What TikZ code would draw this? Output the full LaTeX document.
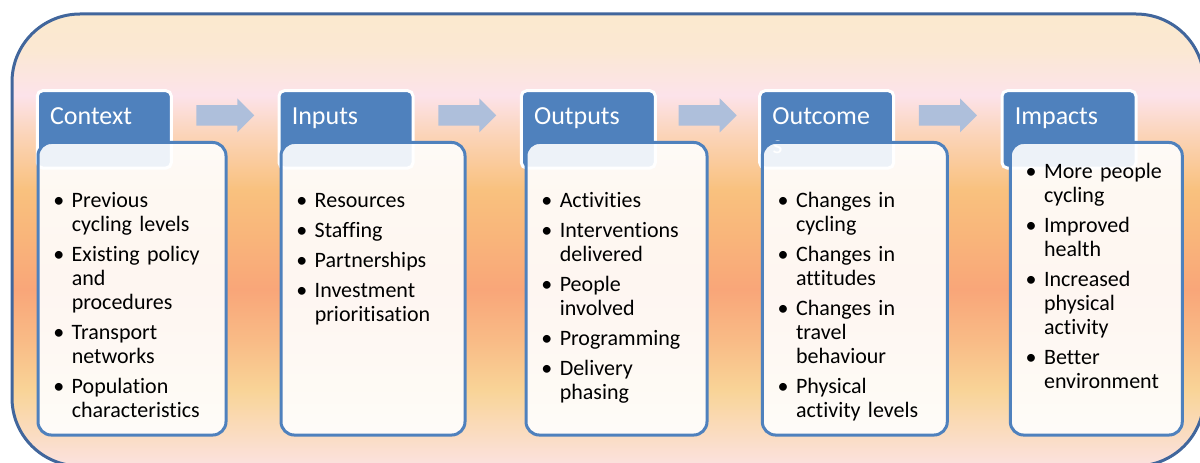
\documentclass[tikz,border=0pt]{standalone}
\usepackage{fontspec}
\setmainfont{Carlito}[Ligatures={NoCommon}]
\usetikzlibrary{shapes.arrows,calc}

\definecolor{tabblue}{HTML}{4F81BD}
\definecolor{frameblue}{HTML}{41669C}
\definecolor{arrowblue}{HTML}{AEBFDB}
\definecolor{bga}{HTML}{FBE2E0}
\definecolor{bgb}{HTML}{F9D497}
\definecolor{bgc}{HTML}{F9BB86}
\definecolor{bgd}{HTML}{F9A679}
\definecolor{bge}{HTML}{F9B47A}
\definecolor{bgf}{HTML}{F9C17E}
\definecolor{bgg}{HTML}{FBD4B8}
\definecolor{bgh}{HTML}{FCE3EA}
\definecolor{bgi}{HTML}{FBE8D3}
\definecolor{bgj}{HTML}{FBE9CE}
\pgfdeclareverticalshading{bgshade}{100bp}{color(0bp)=(bga); color(25bp)=(bga); color(33.4bp)=(bgb); color(38.9bp)=(bgc); color(44.5bp)=(bgd); color(50bp)=(bge); color(55.5bp)=(bgf); color(61.6bp)=(bgg); color(66bp)=(bgh); color(71bp)=(bgi); color(75bp)=(bgj); color(100bp)=(bgj)}

\newcommand{\bitem}{\par\hangindent=19.5pt\hangafter=1\noindent\rule{0pt}{13pt}\makebox[19.5pt][c]{\textbullet}\ignorespaces}

\begin{document}
\begin{tikzpicture}[x=0.75pt,y=0.75pt,yscale=-1,xscale=1,
  tabbox/.style={draw=white, line width=2.25pt, fill=tabblue, rounded corners=4pt, minimum width=100.5pt, minimum height=58pt, anchor=north west, inner sep=0pt},
  bodybox/.style={draw=tabblue, line width=2.25pt, fill=white, fill opacity=0.9, rounded corners=10pt, minimum height=219.4pt, anchor=north west, inner sep=0pt},
  tabtitle/.style={text=white, font=\fontsize{19.5}{21.75}\selectfont, anchor=north west, inner sep=0pt, align=left},
  itemlist/.style={font=\fontsize{16.5}{18}\selectfont\setlength{\parskip}{4.5pt}, anchor=north west, inner sep=0pt, text width=170pt, align=left},
  flowarrow/.style={single arrow, fill=arrowblue, draw=none, inner sep=7.5pt, single arrow head extend=5pt, minimum height=43.5pt, single arrow tip angle=90}]
\useasboundingbox (0,0) rectangle (1200,463);
\clip (0,0) rectangle (1200,463);

%Background frame
\shade [shading=bgshade, rounded corners=51pt] (12,14) rectangle (1204,466);
\draw [frameblue, line width=2.25pt, rounded corners=51pt] (12,14) rectangle (1204,466);

%Header tabs
\node [tabbox] (ctxtab) at (35.8,89.2) {};
\node [tabbox] (inptab) at (277.5,89.2) {};
\node [tabbox] (outptab) at (519.8,89.2) {};
\node [tabbox] (outctab) at (758.2,89.2) {};
\node [tabbox] (imptab) at (1000.5,89.2) {};

% Text Node
\node [tabtitle] (ctxtitle) at (49.8,103.7) {\strut Context};
\node [tabtitle] (inptitle) at (291.5,103.7) {\strut Inputs};
\node [tabtitle] (outptitle) at (533.8,103.7) {\strut Outputs};
\node [tabtitle] (outctitle) at (772.2,103.7) {\strut Outcome\\s};
\node [tabtitle] (imptitle) at (1014.5,103.7) {\strut Impacts};

%Body boxes
\node [bodybox, minimum width=141pt] (ctxbody) at (36.5,141) {};
\node [bodybox, minimum width=138pt] (inpbody) at (279.5,141) {};
\node [bodybox, minimum width=135.75pt] (outpbody) at (524.5,141) {};
\node [bodybox, minimum width=138.75pt] (outcbody) at (760.8,141) {};
\node [bodybox, minimum width=129pt] (impbody) at (1008.8,141) {};

% Text Node
\node [itemlist] (ctxlist) at (45.5,177) {\bitem Previous\newline cycling levels \bitem Existing policy\newline and\newline procedures \bitem Transport\newline networks \bitem Population\newline characteristics\par};
\node [itemlist] (inplist) at (288.5,177) {\bitem Resources \bitem Staffing \bitem Partnerships \bitem Investment\newline prioritisation\par};
\node [itemlist] (outplist) at (533.5,177) {\bitem Activities \bitem Interventions\newline delivered \bitem People\newline involved \bitem Programming \bitem Delivery\newline phasing\par};
\node [itemlist] (outclist) at (769.8,177) {\bitem Changes in\newline cycling \bitem Changes in\newline attitudes \bitem Changes in\newline travel\newline behaviour \bitem Physical\newline activity levels\par};
\node [itemlist] (implist) at (1017.8,148) {\bitem More people\newline cycling \bitem Improved\newline health \bitem Increased\newline physical\newline activity \bitem Better\newline environment\par};

%Block arrows
\node [flowarrow] (arrowa) at ($(ctxtab.east)!0.5!(inptab.west)+(-5,-14)$) {};
\node [flowarrow] (arrowb) at ($(inptab.east)!0.5!(outptab.west)+(-5,-14)$) {};
\node [flowarrow] (arrowc) at ($(outptab.east)!0.5!(outctab.west)+(-5,-14)$) {};
\node [flowarrow] (arrowd) at ($(outctab.east)!0.5!(imptab.west)+(-5,-14)$) {};

\end{tikzpicture}
\end{document}
